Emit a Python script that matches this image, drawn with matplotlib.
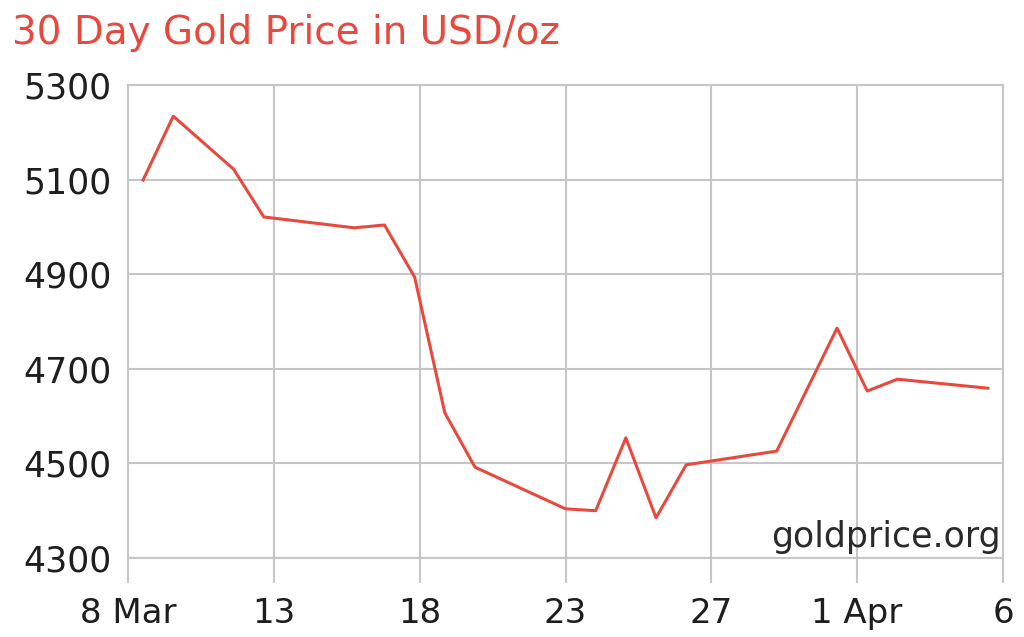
import matplotlib
matplotlib.use('Agg')
import matplotlib.pyplot as plt

# days after 8 Mar and gold price (USD/oz)
days = [0.5, 1.5, 3.5, 4.5, 7.5, 8.5, 9.5, 10.5, 11.5, 14.5, 15.5, 16.5,
        17.5, 18.5, 21.5, 23.5, 24.5, 25.5, 28.5]
price = [5099, 5234, 5122, 5021, 4998, 5004, 4894, 4607, 4492, 4404, 4400,
         4554, 4385, 4497, 4526, 4786, 4653, 4678, 4659]

xlabels = ['8 Mar', '13', '18', '23', '27', '1 Apr', '6']
yticks = [4300, 4500, 4700, 4900, 5100, 5300]

red = '#e8493f'
grey = '#c6c6c6'

fig = plt.figure(figsize=(10.24, 6.37), dpi=100)
ax = fig.add_axes([0.125, 0.124, 0.8545, 0.7426])

ax.plot(days, price, color=red, lw=2.2)

ax.set_xlim(0, 29)
ax.set_ylim(4300, 5300)
ax.set_xticks([29 * i / 6 for i in range(7)])
ax.set_xticklabels(xlabels)
ax.set_yticks(yticks)

ax.grid(True, color=grey, lw=1.5)
ax.set_axisbelow(True)
for s in ax.spines.values():
    s.set_color(grey)
    s.set_linewidth(1.5)

ax.tick_params(axis='x', length=18, width=1.5, color=grey, labelsize=24.5,
               labelcolor='#1e1e1e', pad=10)
ax.tick_params(axis='y', length=0, labelsize=25, labelcolor='#1e1e1e', pad=12)

fig.text(12 / 1024, 1 - 33 / 637, '30 Day Gold Price in USD/oz', color=red,
         fontsize=28, ha='left', va='center')
ax.text(0.997, 0.045, 'goldprice.org', transform=ax.transAxes, ha='right',
        va='center', fontsize=25, color='#2a2a2a')

fig.savefig('out.png', dpi=100)
